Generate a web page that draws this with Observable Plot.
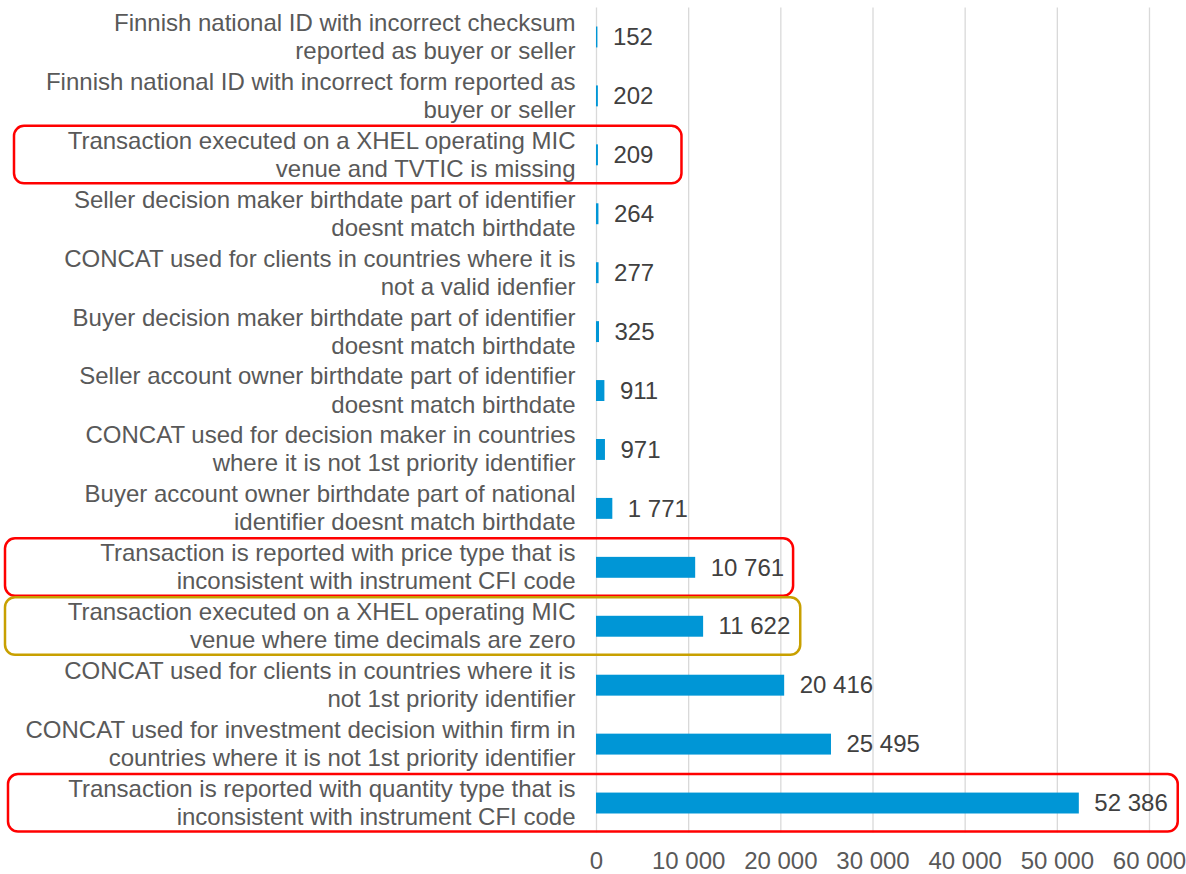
<!DOCTYPE html>
<html>
<head>
<meta charset="utf-8">
<script src="https://cdn.jsdelivr.net/npm/d3@7"></script>
<script src="https://cdn.jsdelivr.net/npm/@observablehq/plot@0.6"></script>
<style>
  html, body { margin: 0; padding: 0; background: #fff; }
  #chart svg { display: block; }
</style>
</head>
<body>
<div id="chart"></div>
<script>
// ---- data ----
const categories = [
  "Finnish national ID with incorrect checksum\nreported as buyer or seller",
  "Finnish national ID with incorrect form reported as\nbuyer or seller",
  "Transaction executed on a XHEL operating MIC\nvenue and TVTIC is missing",
  "Seller decision maker birthdate part of identifier\ndoesnt match birthdate",
  "CONCAT used for clients in countries where it is\nnot a valid idenfier",
  "Buyer decision maker birthdate part of identifier\ndoesnt match birthdate",
  "Seller account owner birthdate part of identifier\ndoesnt match birthdate",
  "CONCAT used for decision maker in countries\nwhere it is not 1st priority identifier",
  "Buyer account owner birthdate part of national\nidentifier doesnt match birthdate",
  "Transaction is reported with price type that is\ninconsistent with instrument CFI code",
  "Transaction executed on a XHEL operating MIC\nvenue where time decimals are zero",
  "CONCAT used for clients in countries where it is\nnot 1st priority identifier",
  "CONCAT used for investment decision within firm in\ncountries where it is not 1st priority identifier",
  "Transaction is reported with quantity type that is\ninconsistent with instrument CFI code"
];
const values = [152, 202, 209, 264, 277, 325, 911, 971, 1771, 10761, 11622, 20416, 25495, 52386];
const xTicks = [0, 10000, 20000, 30000, 40000, 50000, 60000];
const redHighlights = [categories[2], categories[9], categories[13]];
const goldHighlights = [categories[10]];

// ---- styles for the hand-drawn highlight boxes ----
const boxStyle = {
  [categories[2]]:  {left: 14, rightPad: 28, color: "#ff0000"},
  [categories[9]]:  {left: 5,  rightPad: 9,  color: "#ff0000"},
  [categories[10]]: {left: 5,  rightPad: 10, color: "#c8a000"},
  [categories[13]]: {left: 8,  rightPad: 10, color: "#ff0000"}
};

const rows = categories.map((c, i) => ({category: c, value: values[i]}));
const fmt = v => d3.format(",")(v).replace(/,/g, " ");

const FONT = "'Liberation Sans', Arial, sans-serif";
const PAD_INNER = 0.645;

const chart = Plot.plot({
  width: 1186,
  height: 874,
  marginLeft: 596,
  marginRight: 37,
  marginTop: 7.5,
  marginBottom: 41.5,
  style: {fontFamily: FONT, fontSize: "24px", background: "#fff"},
  x: {domain: [0, 60000], ticks: xTicks, label: null},
  y: {domain: categories, paddingInner: PAD_INNER, paddingOuter: PAD_INNER / 2, round: false, label: null},
  marks: [
    Plot.gridX(xTicks, {stroke: "#d9d9d9", strokeOpacity: 1, strokeWidth: 1.3}),
    Plot.barX(rows, {x: "value", y: "category", fill: "#0096d6"}),
    Plot.text(rows, {x: "value", y: "category", text: d => fmt(d.value), dx: 15,
      textAnchor: "start", fill: "#404040", fontSize: 24, className: "vlabel"}),
    Plot.axisY({tickSize: 0, tickPadding: 21, fontSize: 24, lineHeight: 1.17, dy: -1.5,
      color: "#595959", label: null}),
    Plot.axisX(xTicks, {tickSize: 0, tickPadding: 19, fontSize: 24, color: "#595959",
      tickFormat: fmt, label: null})
  ]
});

document.getElementById("chart").appendChild(chart);

// ---- highlight boxes drawn from the scales and the rendered value labels ----
const yScale = chart.scale("y");
const bw = yScale.bandwidth;
const step = bw / (1 - PAD_INNER);
const svgRect = chart.getBoundingClientRect();
const vlabels = chart.querySelectorAll("g.vlabel text");
const g = d3.select(chart).append("g").attr("fill", "none");
[...redHighlights, ...goldHighlights].forEach(cat => {
  const i = categories.indexOf(cat);
  const st = boxStyle[cat];
  const cy = yScale.apply(cat) + bw / 2;
  const tr = vlabels[i].getBoundingClientRect();
  const right = tr.right - svgRect.left + st.rightPad;
  g.append("rect")
    .attr("x", st.left)
    .attr("y", cy - step / 2 + 0.5)
    .attr("width", right - st.left)
    .attr("height", step - 1.5)
    .attr("rx", 10)
    .attr("stroke", st.color)
    .attr("stroke-width", 2.5);
});
</script>
</body>
</html>
